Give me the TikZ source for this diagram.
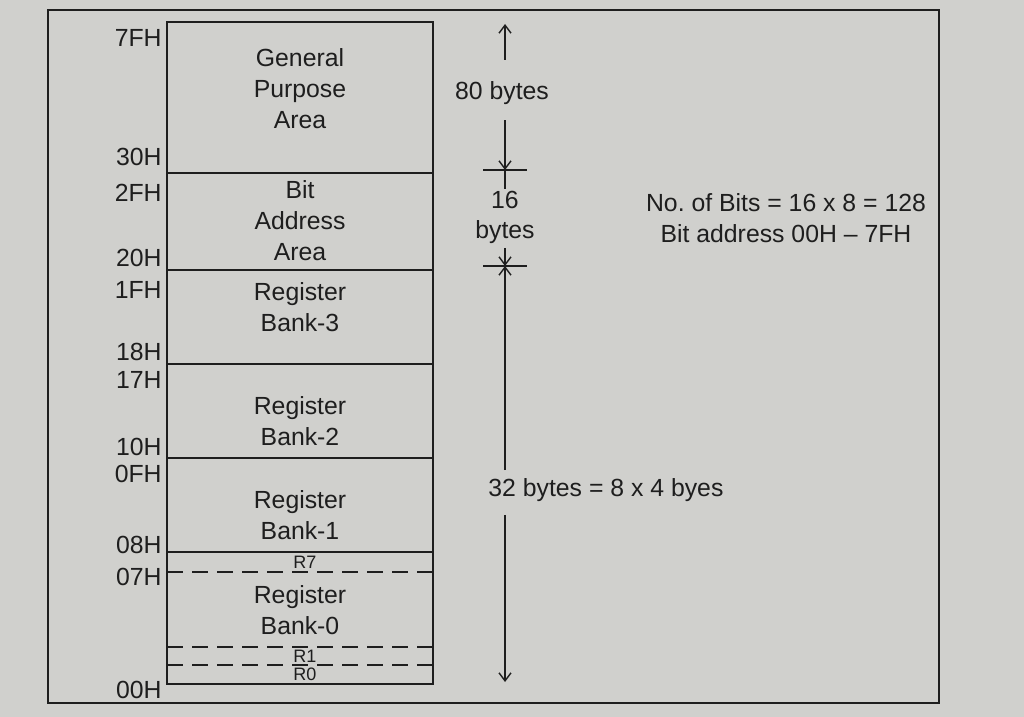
\documentclass[tikz,border=0pt]{standalone}
\usepackage{fontspec}
\setmainfont{Liberation Sans}
\usepackage{tikz}
\usepackage{xcolor}
\definecolor{rampaper}{RGB}{208, 208, 205}
\definecolor{ramink}{RGB}{30, 30, 30}
\usetikzlibrary{calc,positioning,arrows.meta}

\begin{document}
\begin{tikzpicture}[x=0.5pt, y=-0.5pt,
    >={Straight Barb[length=4pt,width=6pt]},
    ramtext/.style={align=center, text=ramink, font=\fontsize{12.4}{15.5}\selectfont},
    addr/.style={anchor=east, inner sep=0pt, text=ramink, font=\fontsize{12.4}{15}\selectfont},
    reglabel/.style={inner sep=0pt, text=ramink, font=\fontsize{9}{10}\selectfont},
    dimlabel/.style={inner sep=1pt, align=center, text=ramink, font=\fontsize{12.4}{15.5}\selectfont},
    boxline/.style={draw=ramink, line width=0.9pt},
    regline/.style={draw=ramink, line width=0.8pt, dash pattern=on 8pt off 4.5pt},
    dimline/.style={draw=ramink, line width=0.7pt}]
    % Page
    \fill[rampaper] (0,0) rectangle (1024,717);
    \useasboundingbox (0,0) rectangle (1024,717);
    \draw[boxline] (48,10) rectangle (939,703);

    % Internal RAM map
    \draw[boxline] (167,22) rectangle (433,684);
    \foreach \y in {173,270,364,458,552} {
        \draw[boxline] (167,\y) -- (433,\y);
    }
    \foreach \y in {572,647,665} {
        \draw[regline] (167,\y) -- (433,\y);
    }

    \node[ramtext] (gpa) at (300, 89) {General\\Purpose\\Area};
    \node[ramtext] (bitarea) at (300, 221) {Bit\\Address\\Area};
    \node[ramtext] (bank3) at (300, 307.5) {Register\\Bank-3};
    \node[ramtext] (bank2) at (300, 421) {Register\\Bank-2};
    \node[ramtext] (bank1) at (300, 515.5) {Register\\Bank-1};
    \node[ramtext] (bank0) at (300, 610) {Register\\Bank-0};

    \node[reglabel] (r7) at (305, 562) {R7};
    \node[reglabel] (r1) at (305, 656) {R1};
    \node[reglabel] (r0) at (305, 674.5) {R0};

    % Addresses
    \foreach \y/\addr in {38/7FH, 157/30H, 193/2FH, 258/20H, 290/1FH, 352/18H,
                          380/17H, 447/10H, 474/0FH, 545/08H, 577/07H, 690/00H} {
        \node[addr] (a\addr) at (162, \y) {\addr};
    }

    % Sizes
    \coordinate (top) at (505, 24);
    \coordinate (tick1) at (505, 170);
    \coordinate (tick2) at (505, 266);
    \coordinate (bottom) at (505, 682);

    \node[dimlabel] (lbl80) at (502, 93) {80 bytes};
    \node[dimlabel] (lbl16) at (505, 200) {16};
    \node[dimlabel] (lblbytes) at (505, 232) {bytes};
    \node[dimlabel, anchor=west] (lbl32) at (486, 490) {32 bytes = 8 x 4 byes};

    \draw[dimline, ->, shorten <=9.7pt] (top |- lbl80.north) -- (top);
    \draw[dimline, ->, shorten <=6.7pt] (top |- lbl80.south) -- (tick1);
    \draw[dimline] (top |- lbl16.north) -- (tick1);
    \draw[dimline, ->, shorten <=1pt] (top |- lblbytes.south) -- (tick2);
    \draw[dimline, ->, shorten <=3pt] (top |- lbl32.north) -- (tick2);
    \draw[dimline, ->, shorten <=5.5pt] (top |- lbl32.south) -- (bottom);
    \draw[dimline] ([xshift=-11pt]tick1) -- ([xshift=11pt]tick1);
    \draw[dimline] ([xshift=-11pt]tick2) -- ([xshift=11pt]tick2);

    % Bit note
    \node[ramtext] (bitnote) at (786, 218) {No.\ of Bits = 16 x 8 = 128\\Bit address 00H -- 7FH};
\end{tikzpicture}
\end{document}
